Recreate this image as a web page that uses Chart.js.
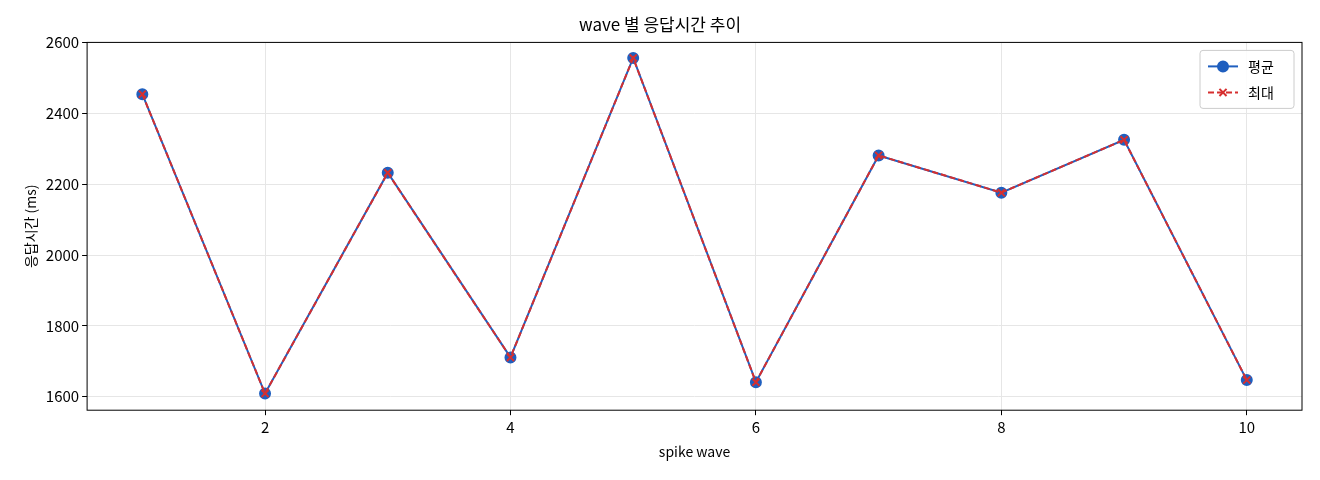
<!DOCTYPE html>
<html><head><meta charset="utf-8">
<script src="https://cdn.jsdelivr.net/npm/chart.js@4"></script>
<style>body{margin:0;background:#fff}#wrap{width:1320px;height:480px}</style>
</head><body><div id="wrap"><canvas id="c"></canvas></div>
<script>
const waves = [1, 2, 3, 4, 5, 6, 7, 8, 9, 10];
const avgMs = [2454, 1609, 2232, 1711, 2556, 1641, 2281, 2176, 2325, 1647];
const maxMs = [2454, 1609, 2232, 1711, 2556, 1641, 2281, 2176, 2325, 1647];
const yTicks = [1600, 1800, 2000, 2200, 2400, 2600];

const font = "'Noto Sans CJK KR', 'DejaVu Sans', sans-serif";
Chart.defaults.font.family = font;
Chart.defaults.color = '#000';

// frame around the plot area plus a matplotlib-style legend box
const frame = {
    id: 'frame',
    afterDraw(chart) {
        const a = chart.chartArea, ctx = chart.ctx;
        ctx.save();
        ctx.strokeStyle = '#000';
        ctx.lineWidth = 1;
        ctx.strokeRect(a.left, a.top, a.right - a.left, a.bottom - a.top);

        const w = 94, h = 58, x = a.right - w - 8, y = a.top + 8;
        ctx.fillStyle = 'rgba(255,255,255,0.85)';
        ctx.strokeStyle = '#ccc';
        ctx.beginPath();
        ctx.roundRect(x, y, w, h, 3);
        ctx.fill();
        ctx.stroke();
        ctx.font = '14px ' + font;
        ctx.textBaseline = 'middle';
        chart.data.datasets.slice().reverse().forEach((ds, i) => {
            const ly = y + 16 + i * 26, lx = x + 8;
            ctx.strokeStyle = ds.borderColor;
            ctx.lineWidth = 2;
            ctx.setLineDash(ds.borderDash || []);
            ctx.beginPath(); ctx.moveTo(lx, ly); ctx.lineTo(lx + 30, ly); ctx.stroke();
            ctx.setLineDash([]);
            Chart.helpers.drawPoint(ctx, {pointStyle: ds.pointStyle, radius: 5, borderWidth: 2}, lx + 15, ly);
            ctx.fillStyle = ds.backgroundColor;
            if (ds.pointStyle === 'circle') {
                ctx.beginPath(); ctx.arc(lx + 15, ly, 5, 0, Math.PI * 2); ctx.fill();
            }
            ctx.fillStyle = '#000';
            ctx.fillText(ds.label, lx + 40, ly);
        });
        ctx.restore();
    }
};

new Chart(document.getElementById('c'), {
    type: 'line',
    data: {
        datasets: [{
            label: '최대',
            data: waves.map((w, i) => ({x: w, y: maxMs[i]})),
            borderColor: '#d62f2f',
            backgroundColor: '#d62f2f',
            borderWidth: 2,
            borderDash: [6, 3],
            pointStyle: 'crossRot',
            pointRadius: 5,
            pointBorderWidth: 2,
            tension: 0,
            order: 1
        }, {
            label: '평균',
            data: waves.map((w, i) => ({x: w, y: avgMs[i]})),
            borderColor: '#1f5fbf',
            backgroundColor: '#1f5fbf',
            borderWidth: 2,
            pointStyle: 'circle',
            pointRadius: 5,
            tension: 0,
            order: 2
        }]
    },
    options: {
        responsive: true,
        maintainAspectRatio: false,
        animation: false,
        layout: {padding: {left: 18, right: 18, top: 10, bottom: 16}},
        plugins: {
            title: {display: true, text: 'wave 별 응답시간 추이', font: {size: 17, weight: 'normal'}, padding: {top: 4, bottom: 8}},
            legend: {display: false}
        },
        scales: {
            x: {
                type: 'linear', min: 0.55, max: 10.45,
                afterBuildTicks: s => { s.ticks = [2, 4, 6, 8, 10].map(v => ({value: v})); },
                grid: {color: '#e6e6e6', tickColor: '#000', tickLength: 5},
                border: {display: false},
                ticks: {font: {size: 15}, callback: v => String(v)},
                title: {display: true, text: 'spike wave', font: {size: 14}}
            },
            y: {
                min: 1562, max: 2600,
                afterBuildTicks: s => { s.ticks = yTicks.map(v => ({value: v})); },
                grid: {color: '#e6e6e6', tickColor: '#000', tickLength: 5},
                border: {display: false},
                ticks: {font: {size: 15}, callback: v => String(v)},
                title: {display: true, text: '응답시간 (ms)', font: {size: 14}}
            }
        }
    },
    plugins: [frame]
});
</script></body></html>
